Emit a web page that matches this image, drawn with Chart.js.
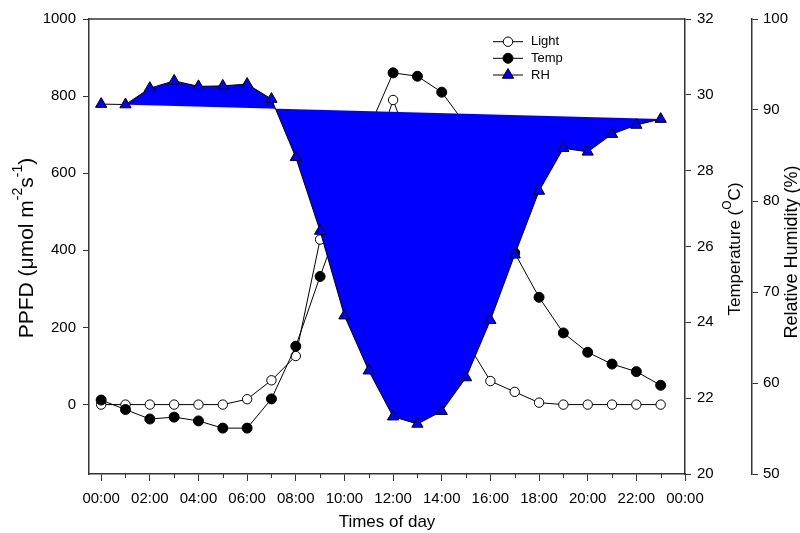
<!DOCTYPE html>
<html>
<head>
<meta charset="utf-8">
<title>PPFD, temperature and RH</title>
<script src="https://cdn.jsdelivr.net/npm/chart.js@4.4.1/dist/chart.umd.min.js"></script>
<style>
    html, body { margin: 0; padding: 0; background: #fff; }
    #wrap { width: 800px; height: 533px; position: relative; }
</style>
</head>
<body>
<div id="wrap"><canvas id="chart"></canvas></div>
<script>
/* ===== Data ===== */

var hours = [0, 1, 2, 3, 4, 5, 6, 7, 8, 9, 10, 11, 12, 13, 14, 15, 16, 17, 18, 19, 20, 21, 22, 23];
var lightPPFD = [0, 0, 0, 0, 0, 0, 14, 63, 126, 428, 540, 600, 790, 620, 400, 165, 61, 33, 5, 0, 0, 0, 0, 0];
var tempC = [21.95, 21.70, 21.45, 21.50, 21.40, 21.21, 21.21, 21.98, 23.37, 25.21, 27.0, 29.1,
             30.58, 30.49, 30.07, 29.2, 27.6, 25.83, 24.66, 23.72, 23.21, 22.90, 22.70, 22.34];
var rhPct = [90.65, 90.6, 92.4, 93.2, 92.6, 92.65, 92.85, 91.2, 84.8, 76.7, 67.4, 61.35,
             56.3, 55.5, 56.9, 60.6, 66.9, 74.1, 81.1, 85.8, 85.4, 87.35, 88.35, 89.0];

var ppfdTicks = [0, 200, 400, 600, 800, 1000];
var tempTicks = [20, 22, 24, 26, 28, 30, 32];
var rhTicks = [50, 60, 70, 80, 90, 100];
var xTickHours = [0, 2, 4, 6, 8, 10, 12, 14, 16, 18, 20, 22, 24];
var xTickLabels = ['00:00', '02:00', '04:00', '06:00', '08:00', '10:00', '12:00',
                   '14:00', '16:00', '18:00', '20:00', '22:00', '00:00'];
var minorHours = [1, 3, 5, 7, 9, 11, 13, 15, 17, 19, 21, 23];

var legendNames = ['Light', 'Temp', 'RH'];

/* ===== Styling ===== */

var FONT = "'Liberation Sans', Arial, Helvetica, sans-serif";
var axisColor = '#333333';
var rhBlue = '#0000ff';

Chart.defaults.font.family = FONT;
Chart.defaults.font.size = 15;
Chart.defaults.color = '#000';

function toPoints(vals) {
    return vals.map(function(v, i) { return { x: hours[i], y: v }; });
}

function fixedTicks(list) {
    return function(scale) {
        scale.ticks = list.map(function(v) { return { value: v }; });
    };
}

function plainLabel(v) {
    return String(v);
}

function axisGrid() {
    return { drawOnChartArea: false, drawTicks: true, tickLength: 6, tickColor: axisColor, tickWidth: 1 };
}

/* ===== Decorations: frame, minor ticks, titles, legend ===== */

function drawRich(ctx, parts, x, y, angle, size) {
    ctx.save();
    ctx.translate(x, y);
    ctx.rotate(angle);
    ctx.textBaseline = 'middle';
    ctx.textAlign = 'left';
    ctx.fillStyle = '#000';
    var total = 0;
    parts.forEach(function(p) {
        ctx.font = (p.sup ? Math.round(size * 0.68) : size) + 'px ' + FONT;
        p.w = ctx.measureText(p.t).width;
        total += p.w;
    });
    var cx = -total / 2;
    parts.forEach(function(p) {
        ctx.font = (p.sup ? Math.round(size * 0.68) : size) + 'px ' + FONT;
        ctx.fillText(p.t, cx, p.sup ? -size * 0.42 : 0);
        cx += p.w;
    });
    ctx.restore();
}

var decorPlugin = {
    id: 'decor',
    afterDraw: function(chart) {
        var ctx = chart.ctx;
        var area = chart.chartArea;
        var xs = chart.scales.x;

        // top frame line
        ctx.save();
        ctx.strokeStyle = axisColor;
        ctx.lineWidth = 1.5;
        ctx.beginPath();
        ctx.moveTo(area.left, area.top);
        ctx.lineTo(area.right, area.top);
        ctx.stroke();

        // short minor ticks on the odd hours
        ctx.lineWidth = 1;
        minorHours.forEach(function(h) {
            var px = Math.round(xs.getPixelForValue(h)) + 0.5;
            ctx.beginPath();
            ctx.moveTo(px, area.bottom);
            ctx.lineTo(px, area.bottom + 4);
            ctx.stroke();
        });
        ctx.restore();

        // axis titles
        drawRich(ctx, [{ t: 'PPFD (\u03bcmol m' }, { t: '-2', sup: true }, { t: 's' }, { t: '-1', sup: true }, { t: ')' }],
            27, 248, -Math.PI / 2, 21);
        drawRich(ctx, [{ t: 'Temperature (' }, { t: 'O', sup: true }, { t: 'C)' }],
            735, 249, -Math.PI / 2, 17);
        drawRich(ctx, [{ t: 'Relative Humidity (%)' }], 792, 252, -Math.PI / 2, 18);
        drawRich(ctx, [{ t: 'Times of day' }], (area.left + area.right) / 2, 522, 0, 17);

        // legend
        var rows = [41.7, 58.3, 75];
        ctx.save();
        chart.data.datasets.forEach(function(ds, i) {
            var y = rows[i];
            ctx.strokeStyle = '#000';
            ctx.lineWidth = 1;
            ctx.beginPath();
            ctx.moveTo(493, y);
            ctx.lineTo(523, y);
            ctx.stroke();
            ctx.fillStyle = ds.pointBackgroundColor;
            ctx.strokeStyle = '#000';
            Chart.helpers.drawPoint(ctx, {
                pointStyle: ds.pointStyle, radius: ds.pointRadius, rotation: 0, borderWidth: 1
            }, 508, y);
            ctx.fillStyle = '#000';
            ctx.font = '13px ' + FONT;
            ctx.textBaseline = 'middle';
            ctx.textAlign = 'left';
            ctx.fillText(legendNames[i], 531, y);
        });
        ctx.restore();
    }
};

/* ===== Chart ===== */

new Chart(document.getElementById('chart'), {
    type: 'line',
    data: {
        datasets: [
            {
                label: legendNames[0],
                data: toPoints(lightPPFD),
                yAxisID: 'y',
                borderColor: '#000',
                borderWidth: 1,
                pointStyle: 'circle',
                pointRadius: 4.7,
                pointBackgroundColor: '#fff',
                pointBorderColor: '#000',
                pointBorderWidth: 1,
                fill: false,
                order: 2,
            },
            {
                label: legendNames[1],
                data: toPoints(tempC),
                yAxisID: 'yT',
                borderColor: '#000',
                borderWidth: 1,
                pointStyle: 'circle',
                pointRadius: 5,
                pointBackgroundColor: '#000',
                pointBorderColor: '#000',
                pointBorderWidth: 1,
                fill: false,
                order: 1,
            },
            {
                label: legendNames[2],
                data: toPoints(rhPct),
                yAxisID: 'yR',
                borderColor: '#000',
                borderWidth: 1,
                backgroundColor: rhBlue,
                pointStyle: 'triangle',
                pointRadius: 6.5,
                pointBackgroundColor: rhBlue,
                pointBorderColor: '#000',
                pointBorderWidth: 1,
                fill: 'shape',
                order: 0,
            },
        ],
    },
    options: {
        responsive: true,
        maintainAspectRatio: false,
        animation: false,
        events: [],
        layout: { padding: { top: 19, left: 0, right: 0, bottom: 0 } },
        plugins: {
            legend: { display: false },
            tooltip: { enabled: false },
        },
        scales: {
            x: {
                type: 'linear',
                position: 'bottom',
                min: -0.5,
                max: 24,
                afterBuildTicks: fixedTicks(xTickHours),
                afterFit: function(s) { s.height = 59; },
                ticks: {
                    autoSkip: false,
                    maxRotation: 0,
                    padding: 9,
                    callback: function(v) {
                        var i = xTickHours.indexOf(v);
                        return i < 0 ? '' : xTickLabels[i];
                    },
                },
                grid: { drawOnChartArea: false, drawTicks: true, tickLength: 7, tickColor: axisColor, tickWidth: 1 },
                border: { display: true, color: axisColor, width: 1.5 },
            },
            y: {
                type: 'linear',
                position: 'left',
                min: -180,
                max: 1000,
                afterBuildTicks: fixedTicks(ppfdTicks),
                afterFit: function(s) { s.width = 89; },
                ticks: { padding: 7, callback: plainLabel },
                grid: axisGrid(),
                border: { display: true, color: axisColor, width: 1.5 },
            },
            yT: {
                type: 'linear',
                position: 'right',
                weight: 0,
                min: 20,
                max: 32,
                afterBuildTicks: fixedTicks(tempTicks),
                afterFit: function(s) { s.width = 67; },
                ticks: { padding: 6, callback: plainLabel },
                grid: axisGrid(),
                border: { display: true, color: axisColor, width: 1.5 },
            },
            yR: {
                type: 'linear',
                position: 'right',
                weight: 1,
                min: 50,
                max: 100,
                afterBuildTicks: fixedTicks(rhTicks),
                afterFit: function(s) { s.width = 48; },
                ticks: { padding: 5, callback: plainLabel },
                grid: axisGrid(),
                border: { display: true, color: axisColor, width: 1.5 },
            },
        },
    },
    plugins: [decorPlugin],
});
</script>
</body>
</html>
